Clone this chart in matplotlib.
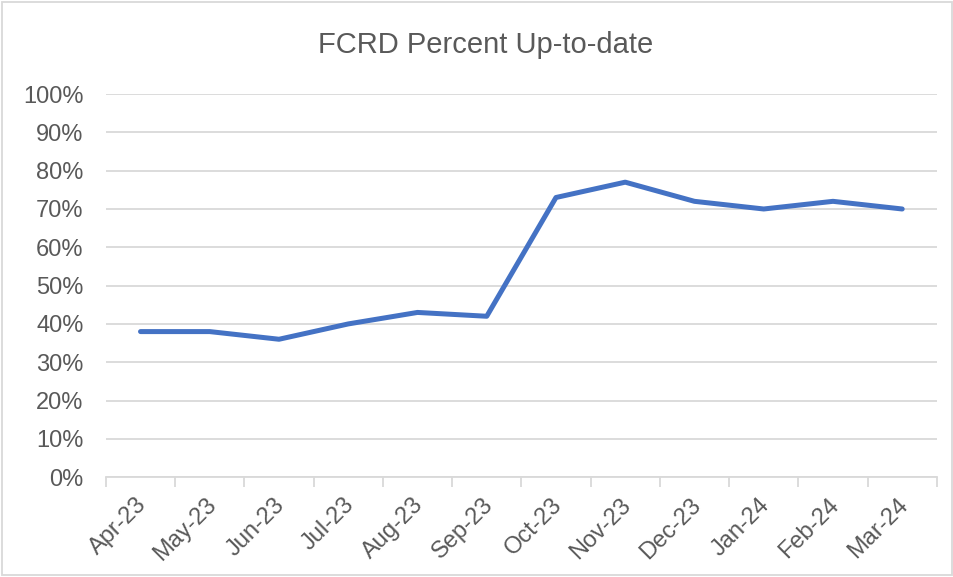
import numpy as np
import matplotlib
matplotlib.use('Agg')
import matplotlib.pyplot as plt
import matplotlib.transforms as mtransforms
from matplotlib.ticker import FuncFormatter, FixedLocator
from matplotlib.patches import Rectangle

months = ["Apr-23", "May-23", "Jun-23", "Jul-23", "Aug-23", "Sep-23",
          "Oct-23", "Nov-23", "Dec-23", "Jan-24", "Feb-24", "Mar-24"]
pct_up_to_date = [38, 38, 36, 40, 43, 42, 73, 77, 72, 70, 72, 70]

plt.rcParams['font.family'] = ['Liberation Sans', 'DejaVu Sans']
txt = '#595959'
grid = '#D9D9D9'

fig = plt.figure(figsize=(9.54, 5.77), dpi=100)
ax = fig.add_axes([0.111, 0.173, 0.871, 0.664])

x = np.arange(len(months))
ax.plot(x, np.array(pct_up_to_date) / 100.0, color='#4472C4', lw=3.6,
        solid_capstyle='round', solid_joinstyle='round', zorder=3)

ax.set_xlim(-0.5, len(months) - 0.5)
ax.set_ylim(0, 1.0)
ax.set_yticks(np.arange(0, 1.01, 0.1))
ax.yaxis.set_major_formatter(FuncFormatter(lambda v, p: "%d%%" % round(v * 100)))
ax.grid(axis='y', color=grid, lw=1.3)
ax.set_axisbelow(True)

ax.set_xticks(x)
ax.set_xticklabels(months, rotation=45, ha='right', rotation_mode='anchor')
ax.xaxis.set_minor_locator(FixedLocator(np.arange(-0.5, len(months), 1.0)))
ax.tick_params(axis='x', which='major', length=0, pad=12, labelsize=17, labelcolor=txt)
ax.tick_params(axis='x', which='minor', length=7, width=1.3, color=grid)
ax.tick_params(axis='y', length=0, pad=16, labelsize=17, labelcolor=txt)

# nudge the slanted month labels a little to the left
shift = mtransforms.ScaledTranslation(-5 / 100, 0, fig.dpi_scale_trans)
for lbl in ax.get_xticklabels():
    lbl.set_transform(lbl.get_transform() + shift)

for s in ['top', 'right', 'left']:
    ax.spines[s].set_visible(False)
ax.spines['bottom'].set_color(grid)
ax.spines['bottom'].set_linewidth(1.3)

fig.text(0.509, 0.922, "FCRD Percent Up-to-date", ha='center', va='center',
         fontsize=21, color=txt)

# chart area border
fig.patches.append(Rectangle((0.002, 0.003), 0.996, 0.994, transform=fig.transFigure,
                             fill=False, edgecolor=grid, lw=1.3))

fig.savefig("out.png", dpi=100)
